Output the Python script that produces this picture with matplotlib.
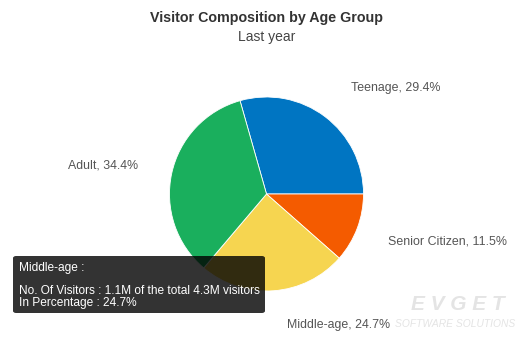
import matplotlib.pyplot as plt
from matplotlib.patches import FancyBboxPatch

plt.rcParams['font.family'] = ['Liberation Sans', 'DejaVu Sans']

# visitor share by age group
groups = ["Teenage", "Senior Citizen", "Middle-age", "Adult"]
shares = [29.4, 11.5, 24.7, 34.4]
colors = ["#0075c2", "#f45b00", "#f6d550", "#1aaf5d"]

W, H = 526, 347
fig = plt.figure(figsize=(W / 100, H / 100), dpi=100)

# pie centred at (266, 194) px from top-left, radius ~97 px
cx, cy, r = 266.5, 194, 97
ax = fig.add_axes([(cx - r) / W, (H - cy - r) / H, 2 * r / W, 2 * r / H])
# first slice ends at 3 o'clock, slices run clockwise
start = shares[0] / sum(shares) * 360
ax.pie(shares, colors=colors, startangle=start, counterclock=False,
       radius=1, wedgeprops=dict(linewidth=0.6, edgecolor="#ffffff"))
ax.set_xlim(-1, 1)
ax.set_ylim(-1, 1)
ax.set_aspect("equal")
ax.axis("off")

# slice labels, placed in figure pixels
label_pos = {
    "Teenage": (351, 88, "left"),
    "Senior Citizen": (388, 241, "left"),
    "Middle-age": (287, 325, "left"),
    "Adult": (138, 165, "right"),
}
for g, s in zip(groups, shares):
    x, y, ha = label_pos[g]
    fig.text(x / W, 1 - y / H, f"{g}, {s}%", ha=ha, va="center",
             fontsize=8.9, color="#555555")

fig.text(267 / W, 1 - 18 / H, "Visitor Composition by Age Group",
         ha="center", va="center", fontsize=10.3, fontweight="bold", color="#333333")
fig.text(267 / W, 1 - 37 / H, "Last year", ha="center", va="center",
         fontsize=10, color="#444444")

# hover tooltip for the middle-age slice
tip = FancyBboxPatch((13 / W, 1 - 313 / H), 252 / W, 57 / H,
                     boxstyle="round,pad=0,rounding_size=0.006",
                     transform=fig.transFigure, facecolor="#000000",
                     alpha=0.8, edgecolor="none", zorder=5)
fig.add_artist(tip)
tip_lines = [
    (268, "Middle-age :"),
    (291, "No. Of Visitors : 1.1M of the total 4.3M visitors"),
    (303, "In Percentage : 24.7%"),
]
for y, txt in tip_lines:
    fig.text(19 / W, 1 - y / H, txt, ha="left", va="center",
             fontsize=8.6, color="#ffffff", zorder=6)

# watermark
fig.text(458 / W, 1 - 305 / H, "E V G E T", ha="center", va="center",
         fontsize=15, fontweight="bold", style="italic", color="#e4e4e4")
fig.text(455 / W, 1 - 324 / H, "SOFTWARE SOLUTIONS", ha="center", va="center",
         fontsize=7.4, style="italic", color="#e4e4e4")

fig.savefig("out.png", dpi=100)
